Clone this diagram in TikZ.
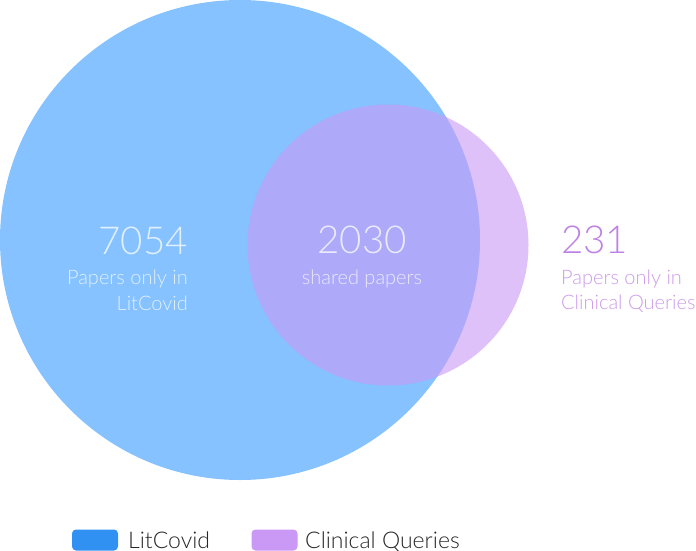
\documentclass[tikz,border=0pt]{standalone}
\usepackage{fontspec}
\setmainfont{Lato Light}
\definecolor{litblue}{RGB}{51,153,255}
\definecolor{cqpurple}{RGB}{202,152,245}
\tikzset{
  venn/.style={circle, inner sep=0pt, fill opacity=0.6},
  bignum/.style={font=\fontsize{38.5}{38.5}\selectfont, inner sep=0pt},
  lbl/.style={font=\fontsize{20}{20}\selectfont, inner sep=0pt},
  intext/.style={text=white, text opacity=0.75},
  outtext/.style={text=cqpurple!85!violet},
  legbox/.style={rounded corners=4pt, minimum width=46pt, minimum height=21pt, inner sep=0pt},
  legtext/.style={font=\fontsize{23}{23}\selectfont, inner sep=0pt, text=black!85, anchor=base west}
}
\begin{document}
\begin{tikzpicture}[x=1pt,y=-1pt]
\useasboundingbox (0,0) rectangle (696,551);
\node[venn, fill=litblue, minimum size=480pt] (lit) at (240,240) {};
\node[venn, fill=cqpurple, minimum size=281pt] (cq) at (388,245) {};
% left region
\node[bignum, intext, anchor=base east] (n1) at (188,254) {7054};
\node[lbl, intext, anchor=base east] (l1a) at (188,284) {Papers only in};
\node[lbl, intext, anchor=base east] (l1b) at (188,310) {LitCovid};
% shared
\node[bignum, intext, anchor=base] (n2) at (362,253) {2030};
\node[lbl, intext, anchor=base] (l2) at (362,284) {shared papers};
% right region
\node[bignum, outtext, anchor=base west] (n3) at (561,253) {231};
\node[lbl, outtext, text opacity=0.8, anchor=base west] (l3a) at (561,284) {Papers only in};
\node[lbl, outtext, text opacity=0.8, anchor=base west] (l3b) at (561,309) {Clinical Queries};
% legend
\node[legbox, fill=litblue!95!black] (k1) at (95,540) {};
\node[legtext] (t1) at (128,548) {LitCovid};
\node[legbox, fill=cqpurple] (k2) at (274.5,540) {};
\node[legtext] (t2) at (305,548) {Clinical Queries};
\end{tikzpicture}
\end{document}
